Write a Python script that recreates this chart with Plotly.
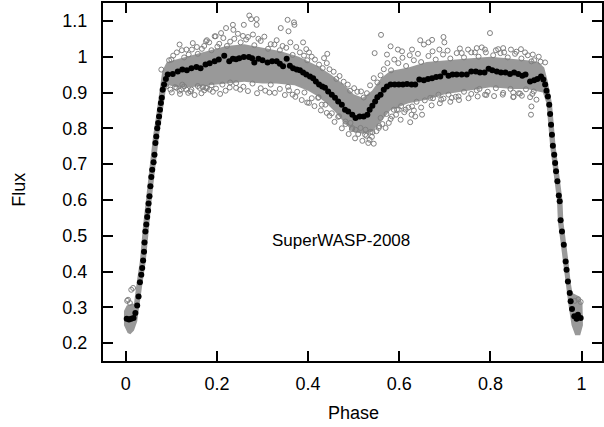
import plotly.graph_objects as go

# ---- binned light curve (black dots) ----
black_phase = [0.002,0.007,0.012,0.017,0.021,0.025,0.028,0.031,0.034,0.036,0.038,0.040,0.041,0.043,0.045,0.047,0.049,0.050,0.052,0.054,
               0.056,0.058,0.061,0.063,0.065,0.067,0.069,0.071,0.073,0.075,0.077,0.079,0.081,0.084,0.088,0.092,0.103,0.114,0.124,0.134,
               0.144,0.155,0.164,0.175,0.184,0.195,0.204,0.216,0.227,0.235,0.242,0.249,0.259,0.270,0.277,0.282,0.291,0.300,0.311,0.321,
               0.331,0.338,0.345,0.353,0.360,0.367,0.375,0.382,0.389,0.396,0.404,0.411,0.417,0.424,0.431,0.437,0.444,0.452,0.459,0.466,
               0.474,0.481,0.488,0.497,0.504,0.513,0.522,0.530,0.535,0.541,0.547,0.552,0.559,0.566,0.573,0.581,0.590,0.599,0.608,0.617,
               0.627,0.635,0.644,0.654,0.663,0.672,0.681,0.690,0.699,0.708,0.717,0.726,0.737,0.748,0.758,0.768,0.777,0.787,0.796,0.804,
               0.814,0.823,0.833,0.843,0.852,0.861,0.870,0.877,0.887,0.896,0.903,0.911,0.916,0.920,0.923,0.926,0.929,0.931,0.933,0.935,
               0.937,0.940,0.942,0.944,0.947,0.950,0.952,0.954,0.957,0.961,0.965,0.967,0.970,0.974,0.976,0.979,0.984,0.989,0.992,0.998]
black_flux = [0.268,0.266,0.268,0.270,0.284,0.305,0.330,0.370,0.391,0.410,0.431,0.455,0.481,0.512,0.531,0.552,0.570,0.590,0.610,0.638,
              0.664,0.684,0.705,0.726,0.759,0.777,0.800,0.815,0.833,0.852,0.871,0.885,0.908,0.922,0.938,0.950,0.952,0.959,0.964,0.962,
              0.968,0.971,0.968,0.978,0.982,0.987,0.992,1.003,0.987,0.994,0.993,0.996,0.999,0.999,0.996,0.984,0.994,0.990,0.984,0.987,
              0.987,0.980,0.973,0.994,0.975,0.968,0.964,0.962,0.956,0.950,0.945,0.940,0.931,0.922,0.917,0.913,0.903,0.894,0.885,0.875,
              0.866,0.852,0.847,0.838,0.829,0.833,0.833,0.838,0.852,0.863,0.875,0.887,0.894,0.908,0.917,0.922,0.922,0.922,0.922,0.924,
              0.922,0.922,0.936,0.934,0.938,0.940,0.943,0.945,0.956,0.947,0.950,0.950,0.950,0.950,0.959,0.959,0.956,0.956,0.966,0.962,
              0.959,0.956,0.956,0.952,0.956,0.952,0.947,0.950,0.931,0.934,0.938,0.945,0.936,0.922,0.905,0.889,0.866,0.840,0.810,0.782,
              0.751,0.726,0.703,0.680,0.652,0.612,0.596,0.543,0.512,0.475,0.428,0.405,0.372,0.340,0.317,0.295,0.275,0.268,0.279,0.270]

# ---- dense core of the raw photometry (outline) ----
band_phase = [0.004,-0.004,-0.004,0.002,0.012,0.018,0.024,0.031,0.038,0.043,0.049,0.056,0.060,0.066,0.072,0.074,0.080,0.090,0.120,0.150,
              0.180,0.220,0.260,0.300,0.340,0.380,0.420,0.450,0.480,0.500,0.520,0.540,0.560,0.580,0.620,0.660,0.700,0.750,0.800,0.850,
              0.880,0.905,0.918,0.926,0.935,0.939,0.943,0.948,0.953,0.958,0.960,0.967,0.971,0.976,0.980,0.995,1.002,1.003,0.997,0.986,
              0.978,0.972,0.968,0.964,0.959,0.955,0.948,0.946,0.941,0.936,0.931,0.927,0.923,0.915,0.880,0.850,0.800,0.750,0.700,0.660,
              0.620,0.600,0.580,0.560,0.540,0.520,0.500,0.480,0.460,0.440,0.420,0.400,0.370,0.330,0.300,0.260,0.220,0.180,0.140,0.110,
              0.095,0.088,0.085,0.079,0.073,0.069,0.062,0.056,0.051,0.044,0.037,0.031,0.025,0.018,0.010]
band_flux = [0.228,0.250,0.290,0.305,0.310,0.310,0.370,0.430,0.530,0.590,0.660,0.730,0.780,0.830,0.880,0.910,0.960,0.985,0.995,1.005,
             1.015,1.030,1.035,1.025,1.015,1.000,0.975,0.950,0.920,0.895,0.885,0.905,0.940,0.960,0.970,0.985,0.990,0.995,1.000,0.995,
             0.990,0.985,0.970,0.930,0.870,0.810,0.750,0.700,0.650,0.600,0.540,0.475,0.430,0.370,0.340,0.330,0.310,0.250,0.222,0.222,
             0.250,0.300,0.340,0.370,0.430,0.475,0.540,0.600,0.650,0.700,0.750,0.810,0.870,0.900,0.910,0.910,0.915,0.905,0.895,0.880,
             0.870,0.860,0.850,0.820,0.790,0.785,0.790,0.815,0.845,0.870,0.890,0.905,0.920,0.925,0.925,0.930,0.925,0.920,0.915,0.915,
             0.920,0.910,0.880,0.830,0.780,0.730,0.660,0.590,0.530,0.430,0.370,0.310,0.260,0.235,0.225]

# ---- individual raw points visible outside the dense core (grey open circles) ----
gray_points = [
    (0.271,1.115),(0.275,1.105),(0.287,1.105),(0.287,1.089),(0.259,1.089),(0.235,1.089),(0.236,1.075),(0.220,1.080),
    (0.209,1.066),(0.197,1.057),(0.178,1.046),(0.355,1.103),(0.369,1.096),(0.370,1.089),(0.340,1.080),(0.357,1.071),
    (0.389,1.040),(0.396,1.021),(0.402,1.012),(0.435,0.996),(0.442,1.008),(0.560,1.061),(0.546,1.010),(0.581,1.029),
    (0.597,1.020),(0.573,1.006),(0.169,0.915),(0.178,0.912),(0.229,0.928),(0.242,0.913),(0.315,0.900),(0.358,0.906),
    (0.366,0.894),(0.402,0.871),(0.423,0.887),(0.430,0.866),(0.441,0.843),(0.466,0.832),(0.482,0.819),(0.493,0.815),
    (0.497,0.801),(0.504,0.796),(0.515,0.801),(0.526,0.796),(0.528,0.779),(0.535,0.768),(0.532,0.759),(0.544,0.757),
    (0.541,0.789),(0.555,0.801),(0.559,0.829),(0.570,0.801),(0.577,0.815),(0.584,0.833),(0.595,0.852),
    (0.799,1.066),(0.646,1.046),(0.654,1.034),(0.664,1.040),(0.672,1.047),(0.697,1.055),(0.699,1.040),(0.770,1.024),
    (0.788,1.020),(0.817,1.021),(0.828,1.024),(0.830,1.012),(0.867,1.021),(0.890,0.987),(0.920,0.984),(0.737,1.010),
    (0.628,1.020),(0.606,1.015),(0.599,0.852),(0.614,0.852),(0.627,0.838),(0.635,0.833),(0.624,0.817),(0.603,0.824),
    (0.650,0.838),(0.628,0.861),(0.668,0.885),(0.686,0.894),(0.697,0.883),(0.715,0.885),(0.730,0.889),(0.770,0.906),
    (0.788,0.894),(0.850,0.887),(0.850,0.900),(0.865,0.897),(0.887,0.887),(0.890,0.861),(0.889,0.838),(0.901,0.880),
    (0.118,1.034),(0.133,1.020),(0.100,0.992),(0.078,0.964),(0.089,0.917),(0.111,0.913),(0.133,0.908),(0.144,0.908),
    (0.124,0.922),(0.147,1.038),(0.176,1.043),(0.195,1.057),(0.162,0.913),(0.176,0.913),(0.184,0.908),(0.122,0.908),
    (0.012,0.349),(0.016,0.354),(0.005,0.321),(0.009,0.312),(0.003,0.318),(0.985,0.318),(0.993,0.322),(0.998,0.315),
    (0.104,1.003),(0.123,1.018),(0.138,1.006),(0.156,1.027),(0.167,1.022),(0.183,1.040),(0.201,1.028),(0.214,1.052),
    (0.229,1.042),(0.246,1.064),(0.257,1.058),(0.264,1.048),(0.279,1.062),(0.291,1.050),(0.304,1.056),(0.318,1.035),
    (0.331,1.046),(0.344,1.030),(0.361,1.040),(0.374,1.027),(0.391,1.003),(0.408,1.000),(0.424,0.978),(0.441,0.982),
    (0.456,0.958),(0.469,0.946),(0.487,0.922),(0.501,0.912),(0.516,0.903),(0.529,0.898),(0.544,0.940),(0.559,0.948),
    (0.574,0.982),(0.589,0.992),(0.607,0.997),(0.623,1.004),(0.641,1.008),(0.673,1.015),(0.688,1.020),(0.706,1.017),
    (0.733,1.023),(0.751,1.020),(0.766,1.012),(0.781,1.026),(0.812,1.018),(0.845,1.020),(0.857,1.014),(0.876,1.012),
    (0.893,1.006),(0.906,1.000),
    (0.101,0.900),(0.119,0.896),(0.137,0.899),(0.151,0.893),(0.166,0.898),(0.191,0.902),(0.207,0.896),(0.219,0.905),
    (0.251,0.908),(0.268,0.904),(0.288,0.898),(0.306,0.905),(0.327,0.899),(0.349,0.893),(0.372,0.888),(0.386,0.879),
    (0.398,0.872),(0.414,0.862),(0.428,0.850),(0.447,0.835),(0.458,0.818),(0.474,0.800),(0.489,0.784),(0.503,0.772),
    (0.519,0.765),(0.537,0.790),(0.550,0.792),(0.563,0.812),(0.581,0.826),(0.593,0.838),(0.611,0.845),(0.632,0.850),
    (0.648,0.858),(0.671,0.864),(0.689,0.870),(0.712,0.874),(0.731,0.879),(0.752,0.884),(0.772,0.889),(0.791,0.893),
    (0.808,0.890),(0.827,0.894),(0.851,0.888),(0.869,0.891),(0.892,0.896),
    (0.095,0.990),(0.112,1.012),(0.128,0.998),(0.145,1.020),(0.158,1.008),(0.172,1.030),(0.188,1.018),(0.205,1.036),
    (0.222,1.030),(0.238,1.050),(0.252,1.040),(0.268,1.055),(0.282,1.032),(0.296,1.044),(0.312,1.022),(0.326,1.034),
    (0.338,1.018),(0.352,1.025),(0.366,1.005),(0.382,1.012),(0.398,0.990),(0.415,0.992),(0.432,0.968),(0.447,0.965),
    (0.462,0.938),(0.478,0.930),(0.492,0.905),(0.508,0.902),(0.522,0.886),(0.536,0.920),(0.552,0.928),(0.566,0.965),
    (0.582,0.962),(0.598,0.982),(0.615,0.974),(0.632,0.990),(0.648,0.985),(0.664,1.002),(0.680,0.992),(0.696,1.006),
    (0.712,0.995),(0.726,1.010),(0.742,0.998),(0.758,1.012),(0.774,1.000),(0.790,1.012),(0.806,1.004),(0.822,1.010),
    (0.838,0.998),(0.854,1.008),(0.868,0.995),(0.882,1.004),(0.896,0.990),(0.910,0.986),
    (0.098,0.908),(0.108,0.915),(0.118,0.905),(0.128,0.917),(0.142,0.903),(0.158,0.918),(0.172,0.906),(0.188,0.920),
    (0.198,0.911),(0.212,0.922),(0.228,0.914),(0.242,0.926),(0.258,0.916),(0.278,0.925),(0.296,0.912),(0.318,0.922),
    (0.338,0.910),(0.356,0.916),(0.376,0.902),(0.392,0.900),(0.408,0.884),(0.422,0.885),(0.438,0.866),(0.452,0.842),
    (0.468,0.834),(0.482,0.812),(0.496,0.798),(0.510,0.784),(0.525,0.782),(0.540,0.776),(0.556,0.806),(0.572,0.840),
    (0.588,0.852),(0.604,0.862),(0.620,0.858),(0.638,0.874),(0.656,0.878),(0.674,0.884),(0.692,0.880),(0.708,0.894),
    (0.724,0.888),(0.742,0.902),(0.758,0.896),(0.776,0.910),(0.794,0.902),(0.812,0.912),(0.828,0.899),(0.844,0.910),
    (0.862,0.898),(0.878,0.909),(0.895,0.903),
]
gray_phase = [p for p, f in gray_points]
gray_flux = [f for p, f in gray_points]

x_ticks = [0, 0.2, 0.4, 0.6, 0.8, 1.0]
x_ticktext = ["0", "0.2", "0.4", "0.6", "0.8", "1"]
y_ticks = [0.2, 0.3, 0.4, 0.5, 0.6, 0.7, 0.8, 0.9, 1.0, 1.1]
y_ticktext = ["0.2", "0.3", "0.4", "0.5", "0.6", "0.7", "0.8", "0.9", "1", "1.1"]

FONT = "Liberation Sans, Arial, Helvetica, sans-serif"
GREY = "#808080"

fig = go.Figure()
fig.add_trace(go.Scatter(x=band_phase, y=band_flux, mode="lines", fill="toself",
                         fillcolor="#999999", line=dict(color="#999999", width=0), hoverinfo="skip"))
fig.add_trace(go.Scatter(x=gray_phase, y=gray_flux, mode="markers",
                         marker=dict(symbol="circle-open", size=5, color=GREY, line=dict(width=1, color=GREY))))
fig.add_trace(go.Scatter(x=black_phase, y=black_flux, mode="markers",
                         marker=dict(symbol="circle", size=6, color="black")))

fig.add_annotation(x=0.472, y=0.488, xref="x", yref="y", text="SuperWASP-2008", showarrow=False,
                   xanchor="center", yanchor="middle",
                   font=dict(family=FONT, size=17, color="black"))
fig.add_annotation(x=-0.1687, y=0.478, xref="paper", yref="paper", text="Flux", textangle=-90,
                   xanchor="center", yanchor="middle",
                   showarrow=False, font=dict(family=FONT, size=18, color="black"))
fig.add_annotation(x=0.502, y=-0.145, xref="paper", yref="paper", text="Phase",
                   xanchor="center", yanchor="middle",
                   showarrow=False, font=dict(family=FONT, size=18, color="black"))

axis_common = dict(showgrid=False, zeroline=False, showline=True, linewidth=2, linecolor="black",
                   ticks="inside", ticklen=10, tickwidth=1.5, tickcolor="black", mirror="ticks",
                   tickfont=dict(family=FONT, size=18, color="black"))
fig.update_xaxes(range=[-0.05, 1.0448], tickvals=x_ticks, ticktext=x_ticktext, ticklabelstandoff=5, **axis_common)
fig.update_yaxes(range=[0.15, 1.15], tickvals=y_ticks, ticktext=y_ticktext, ticklabelstandoff=10, **axis_common)

fig.update_layout(width=604, height=427, margin=dict(l=103, r=0, t=3, b=66),
                  paper_bgcolor="white", plot_bgcolor="white", showlegend=False,
                  font=dict(family=FONT, size=18, color="black"))
fig.write_html("out.html")
